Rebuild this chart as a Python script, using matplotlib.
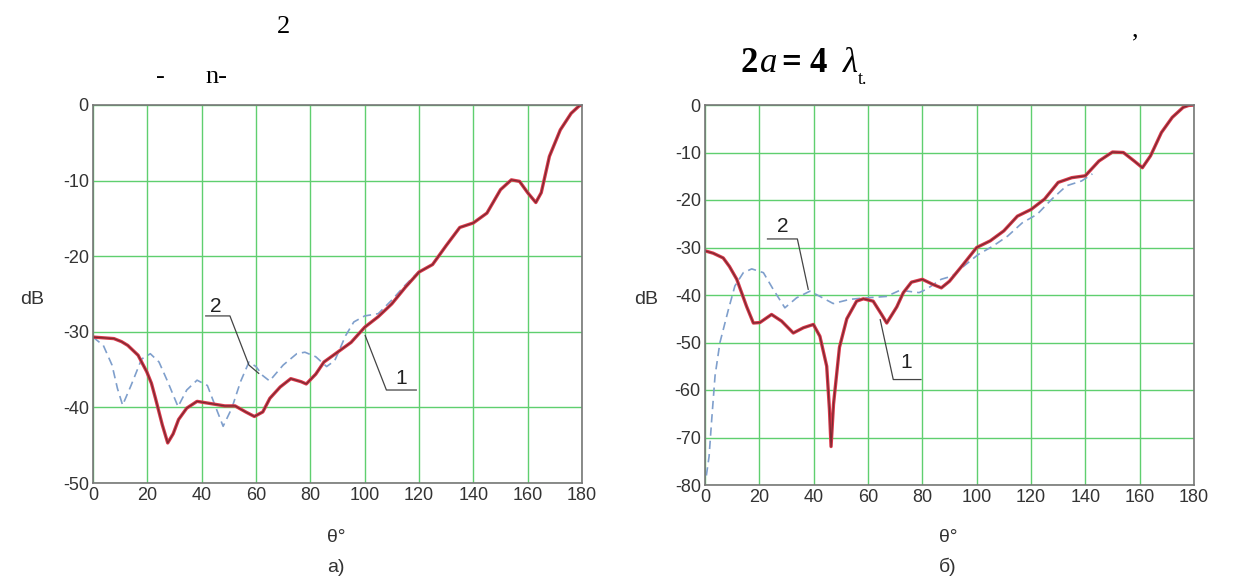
import numpy as np
import matplotlib.pyplot as plt

plt.rcParams['font.family'] = ['Liberation Sans', 'DejaVu Sans']
plt.rcParams['axes.unicode_minus'] = False

# panel a) curve 1 (solid red) and curve 2 (dashed blue)
th_a1 = [0, 4, 7.7, 10.5, 12.8, 16.6, 19.8, 21.5, 23, 25.5, 27.5, 29.5, 31.5, 34.5, 38.3,
         43.4, 48.5, 52.3, 56.2, 59.4, 62.5, 65.1, 68.9, 72.8, 76.6, 78.5, 82, 85, 90, 95,
         100, 105, 110, 115, 120, 125, 130, 135, 140, 145, 150, 154, 157, 160, 163, 165,
         168, 172, 176, 179, 180]
db_a1 = [-30.7, -30.8, -30.9, -31.3, -31.8, -33.1, -35.3, -36.8, -38.8, -42.3, -44.7,
         -43.5, -41.6, -40.1, -39.2, -39.5, -39.8, -39.8, -40.6, -41.2, -40.6, -38.8,
         -37.3, -36.2, -36.6, -36.9, -35.6, -34.0, -32.7, -31.4, -29.4, -28.0, -26.3,
         -24.1, -22.1, -21.1, -18.6, -16.2, -15.6, -14.3, -11.2, -9.9, -10.1, -11.6,
         -12.9, -11.6, -6.8, -3.3, -1.1, -0.1, 0.0]
th_a2 = [0, 3.8, 7, 9, 10.9, 14, 17.9, 21.1, 24.3, 27.5, 31.3, 34.5, 38.3, 42.1, 45.3,
         47.9, 51.1, 54.3, 57.4, 60, 62.5, 65, 70, 75, 78, 82, 86, 89, 93, 96, 100, 105,
         110, 115, 120]
db_a2 = [-30.7, -31.8, -34.4, -37.5, -39.7, -37.1, -33.6, -32.9, -34.0, -36.6, -39.9,
         -37.7, -36.4, -37.1, -40.1, -42.5, -40.1, -36.6, -34.0, -34.6, -35.8, -36.5,
         -34.4, -32.9, -32.7, -33.3, -34.6, -33.8, -30.5, -28.7, -27.9, -27.6, -25.8,
         -23.8, -22.0]

# panel б)
th_b1 = [0, 3, 6.7, 9, 11.7, 15.3, 17.8, 20.2, 24.5, 28.2, 32.5, 36.2, 39.9, 42.3, 44.8,
         45.8, 46.4, 47.3, 49.5, 52.2, 55.8, 58.3, 61.9, 65, 66.9, 70.6, 73, 76, 80, 84,
         87, 90, 95, 100, 105, 110, 115, 120, 125, 130, 135, 140, 145, 150, 154, 158, 161,
         164, 168, 172, 176, 178, 180]
db_b1 = [-30.7, -31.2, -32.2, -34.0, -36.7, -42.4, -45.9, -45.8, -44.1, -45.5, -48.0,
         -46.9, -46.2, -48.7, -55.0, -64.0, -71.9, -63.0, -51.0, -45.0, -41.3, -40.8,
         -41.3, -44.1, -45.9, -42.5, -39.5, -37.3, -36.7, -37.8, -38.5, -37.1, -33.6,
         -30.0, -28.6, -26.5, -23.4, -22.0, -19.8, -16.3, -15.3, -14.9, -11.8, -9.9,
         -10.0, -11.8, -13.2, -10.7, -5.8, -2.6, -0.5, -0.1, 0.0]
th_b2 = [0.5, 1.5, 2.5, 3.7, 5.5, 8.6, 11, 14.1, 17.2, 21.5, 25.1, 29.4, 33.7, 38.6, 42.3,
         47.2, 53.4, 59.5, 66.8, 71.8, 78.8, 81.5, 86.9, 91, 95.1, 100.5, 106, 111.4,
         116.8, 122.3, 127.7, 133.1, 138.6, 142.6]
db_b2 = [-78.0, -74.0, -66.0, -57.0, -50.0, -43.1, -38.1, -35.3, -34.5, -35.3, -38.8,
         -42.7, -40.6, -39.2, -40.3, -41.8, -40.9, -40.6, -40.3, -39.0, -39.5, -38.8,
         -36.7, -36.0, -34.0, -31.5, -29.7, -27.6, -24.8, -23.0, -19.8, -17.0, -16.0,
         -14.5]

fig = plt.figure(figsize=(12.33, 5.86), dpi=100)
ax1 = fig.add_axes([93 / 1233, 103 / 586, 489 / 1233, 378 / 586])
ax2 = fig.add_axes([705 / 1233, 101 / 586, 489 / 1233, 380 / 586])

red = '#d9384a'
red_core = '#7a2a32'
blue = '#7f9fcc'
grid_c = '#5fcf6f'
txt_c = '#333333'


def setup(ax, ymin, yticks):
    ax.set_xlim(0, 180)
    ax.set_ylim(ymin, 0)
    ax.set_xticks(range(0, 181, 20))
    ax.set_yticks(yticks)
    ax.grid(True, color=grid_c, lw=1.0)
    ax.tick_params(length=0, labelsize=13, labelcolor=txt_c, pad=3)
    for s in ax.spines.values():
        s.set_color('#777777')
        s.set_linewidth(1.2)
    ax.set_axisbelow(True)


setup(ax1, -50, range(-50, 1, 10))
setup(ax2, -80, range(-80, 1, 10))

# curves and leader lines for the numbers
lc = '#444444'
ax1.plot(th_a2, db_a2, ls=(0, (5, 3)), color=blue, lw=1.2)
ax1.plot(th_a1, db_a1, color=red, lw=2.4)
ax1.plot(th_a1, db_a1, color=red_core, lw=0.9)
ax1.plot([41.5, 50.4, 57.4, 61], [-27.9, -27.9, -34.4, -35.5], color=lc, lw=0.9)
ax1.text(45.3, -26.6, '2', fontsize=15, ha='center', va='center', color='#222222')
ax1.plot([100.2, 108, 119], [-30.5, -37.7, -37.7], color=lc, lw=0.9)
ax1.text(113.6, -36.2, '1', fontsize=15, ha='center', va='center', color='#222222')

ax2.plot(th_b2, db_b2, ls=(0, (5, 3)), color=blue, lw=1.2)
ax2.plot(th_b1, db_b1, color=red, lw=2.4)
ax2.plot(th_b1, db_b1, color=red_core, lw=0.9)
ax2.plot([23, 34, 38], [-28.2, -28.2, -38.8], color=lc, lw=0.9)
ax2.text(28.5, -25.6, '2', fontsize=15, ha='center', va='center', color='#222222')
ax2.plot([64.5, 69.3, 79.5], [-45.2, -57.8, -57.8], color=lc, lw=0.9)
ax2.text(74, -54.2, '1', fontsize=15, ha='center', va='center', color='#222222')

for sub, xc, ylx in [('а)', 336, 32), ('б)', 948, 646)]:
    fig.text(xc / 1233, 1 - 538 / 586, 'θ°', fontsize=14, ha='center', va='center', color=txt_c)
    fig.text(xc / 1233, 1 - 567 / 586, sub, fontsize=14, ha='center', va='center', color=txt_c)
    fig.text(ylx / 1233, 1 - 300 / 586, 'dB', fontsize=14, ha='center', va='center', color=txt_c)

# fragments of the page text above the charts
serif = 'Liberation Serif'
fig.text(283 / 1233, 1 - 27 / 586, '2', family=serif, fontsize=19, ha='center', va='center')
fig.text(160 / 1233, 1 - 77 / 586, '-', family=serif, fontsize=19, ha='center', va='center')
fig.text(205 / 1233, 1 - 77 / 586, 'n-', family=serif, fontsize=19, ha='left', va='center')
fig.text(1135 / 1233, 1 - 30 / 586, ',', family=serif, fontsize=19, ha='center', va='center')
base = 1 - 72 / 586
fig.text(740 / 1233, base, '2', family=serif, fontsize=25, fontweight='bold',
         ha='left', va='baseline')
fig.text(760 / 1233, base, 'a', family=serif, fontsize=25, style='italic',
         ha='left', va='baseline')
fig.text(781 / 1233, base, '=', family=serif, fontsize=25, fontweight='bold',
         ha='left', va='baseline')
fig.text(809 / 1233, base, '4', family=serif, fontsize=25, fontweight='bold',
         ha='left', va='baseline')
fig.text(843 / 1233, base, 'λ', family=serif, fontsize=25, style='italic',
         ha='left', va='baseline')
fig.text(858 / 1233, 1 - 84 / 586, 't.', family=serif, fontsize=13,
         ha='left', va='baseline')

fig.savefig('out.png', dpi=100)
